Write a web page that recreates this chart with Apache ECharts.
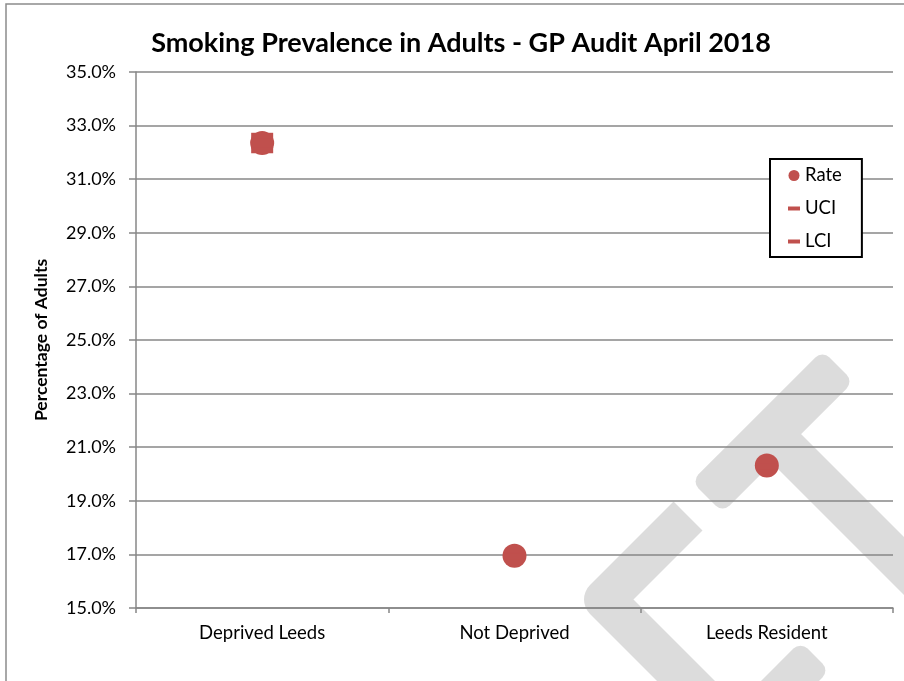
<!DOCTYPE html>
<html>
<head>
<meta charset="utf-8">
<script src="https://cdn.jsdelivr.net/npm/echarts@6/dist/echarts.min.js"></script>
<style>
  html, body { margin: 0; padding: 0; background: #ffffff; }
  #chart { width: 904px; height: 681px; }
</style>
</head>
<body>
<div id="chart"></div>
<script>
// ---- Data ----
const categories = ['Deprived Leeds', 'Not Deprived', 'Leeds Resident'];
const rateValues = [32.35, 16.95, 20.32];
const uciValues = [32.62, 16.97, 20.35];
const lciValues = [32.08, 16.93, 20.29];
const yMin = 15;
const yMax = 35;
const yStep = 2;
const titleText = 'Smoking Prevalence in Adults - GP Audit April 2018';
const yAxisTitle = 'Percentage of Adults';
const seriesNames = ['Rate', 'UCI', 'LCI'];

const RED = '#C0504D';
const GRID = '#878787';
const FONT = 'Lato';
const WM = '#dcdcdc';

// Decorative watermark band (not data)
function band(x1, y1, x2, y2, w, r) {
  const dx = x2 - x1, dy = y2 - y1;
  const L = Math.hypot(dx, dy);
  return {
    type: 'rect', silent: true, z: -5,
    x: (x1 + x2) / 2, y: (y1 + y2) / 2,
    rotation: -Math.atan2(dy, dx),
    shape: { x: -L / 2, y: -w / 2, width: L, height: w, r: r },
    style: { fill: WM }
  };
}

const dashIcon = 'path://M0,0L12,0L12,4L0,4Z';

const chart = echarts.init(document.getElementById('chart'), null, { renderer: 'canvas' });

const option = {
  animation: false,
  backgroundColor: '#ffffff',
  title: {
    text: titleText,
    left: 456,
    textAlign: 'center',
    top: 25,
    textStyle: { fontFamily: FONT, fontWeight: 'bold', fontSize: 27, color: '#000' }
  },
  legend: {
    orient: 'vertical',
    left: 770,
    top: 159,
    padding: [7, 20, 6, 18],
    itemWidth: 12,
    itemHeight: 11,
    itemGap: 14,
    borderColor: '#000',
    borderWidth: 2,
    backgroundColor: '#fff',
    textStyle: { fontFamily: FONT, fontSize: 18.5, color: '#000' },
    data: [
      { name: seriesNames[0], icon: 'circle' },
      { name: seriesNames[1], icon: dashIcon },
      { name: seriesNames[2], icon: dashIcon }
    ]
  },
  grid: { left: 136, right: 11, top: 72, bottom: 73, containLabel: false },
  xAxis: {
    type: 'category',
    data: categories,
    boundaryGap: true,
    axisLine: { show: true, lineStyle: { color: GRID, width: 1.5 } },
    axisTick: { show: true, length: 5, alignWithLabel: false, lineStyle: { color: GRID, width: 1.5 } },
    axisLabel: { margin: 16, fontFamily: FONT, fontSize: 18.5, color: '#000' },
    splitLine: { show: false }
  },
  yAxis: {
    type: 'value',
    min: yMin,
    max: yMax,
    interval: yStep,
    name: yAxisTitle,
    nameLocation: 'middle',
    nameGap: 86,
    nameTextStyle: { fontFamily: FONT, fontWeight: 'bold', fontSize: 17.5, color: '#000' },
    axisLine: { show: true, lineStyle: { color: GRID, width: 1.5 } },
    axisTick: { show: true, length: 7, lineStyle: { color: GRID, width: 1.5 } },
    axisLabel: {
      margin: 20, fontFamily: FONT, fontSize: 18, color: '#000',
      formatter: v => v.toFixed(1) + '%'
    },
    splitLine: { show: true, lineStyle: { color: GRID, width: 1.5 } }
  },
  graphic: [
    { type: 'rect', silent: true, z: -5, shape: { x: 6, y: 4, width: 1200, height: 1200 },
      style: { fill: null, stroke: '#8c8c8c', lineWidth: 1.5 } },
    band(838, 366, 707, 497, 44, 10),
    band(771, 433, 1000, 662, 41, 0),
    band(815, 656, 700, 771, 41, 10),
    { type: 'polyline', silent: true, z: -5,
      shape: { points: [[688, 516], [604.5, 599.5], [724.5, 719.5]] },
      style: { stroke: WM, lineWidth: 41, lineJoin: 'round', fill: null } }
  ],
  series: [
    {
      name: seriesNames[0], type: 'scatter', data: rateValues,
      symbol: 'circle', symbolSize: 24,
      itemStyle: { color: RED, opacity: 1 }, emphasis: { disabled: true }
    },
    {
      name: seriesNames[1], type: 'scatter', data: uciValues,
      symbol: 'rect', symbolSize: [22, 6],
      itemStyle: { color: RED, opacity: 1 }, emphasis: { disabled: true }
    },
    {
      name: seriesNames[2], type: 'scatter', data: lciValues,
      symbol: 'rect', symbolSize: [22, 6],
      itemStyle: { color: RED, opacity: 1 }, emphasis: { disabled: true }
    }
  ]
};

chart.setOption(option);
</script>
</body>
</html>
